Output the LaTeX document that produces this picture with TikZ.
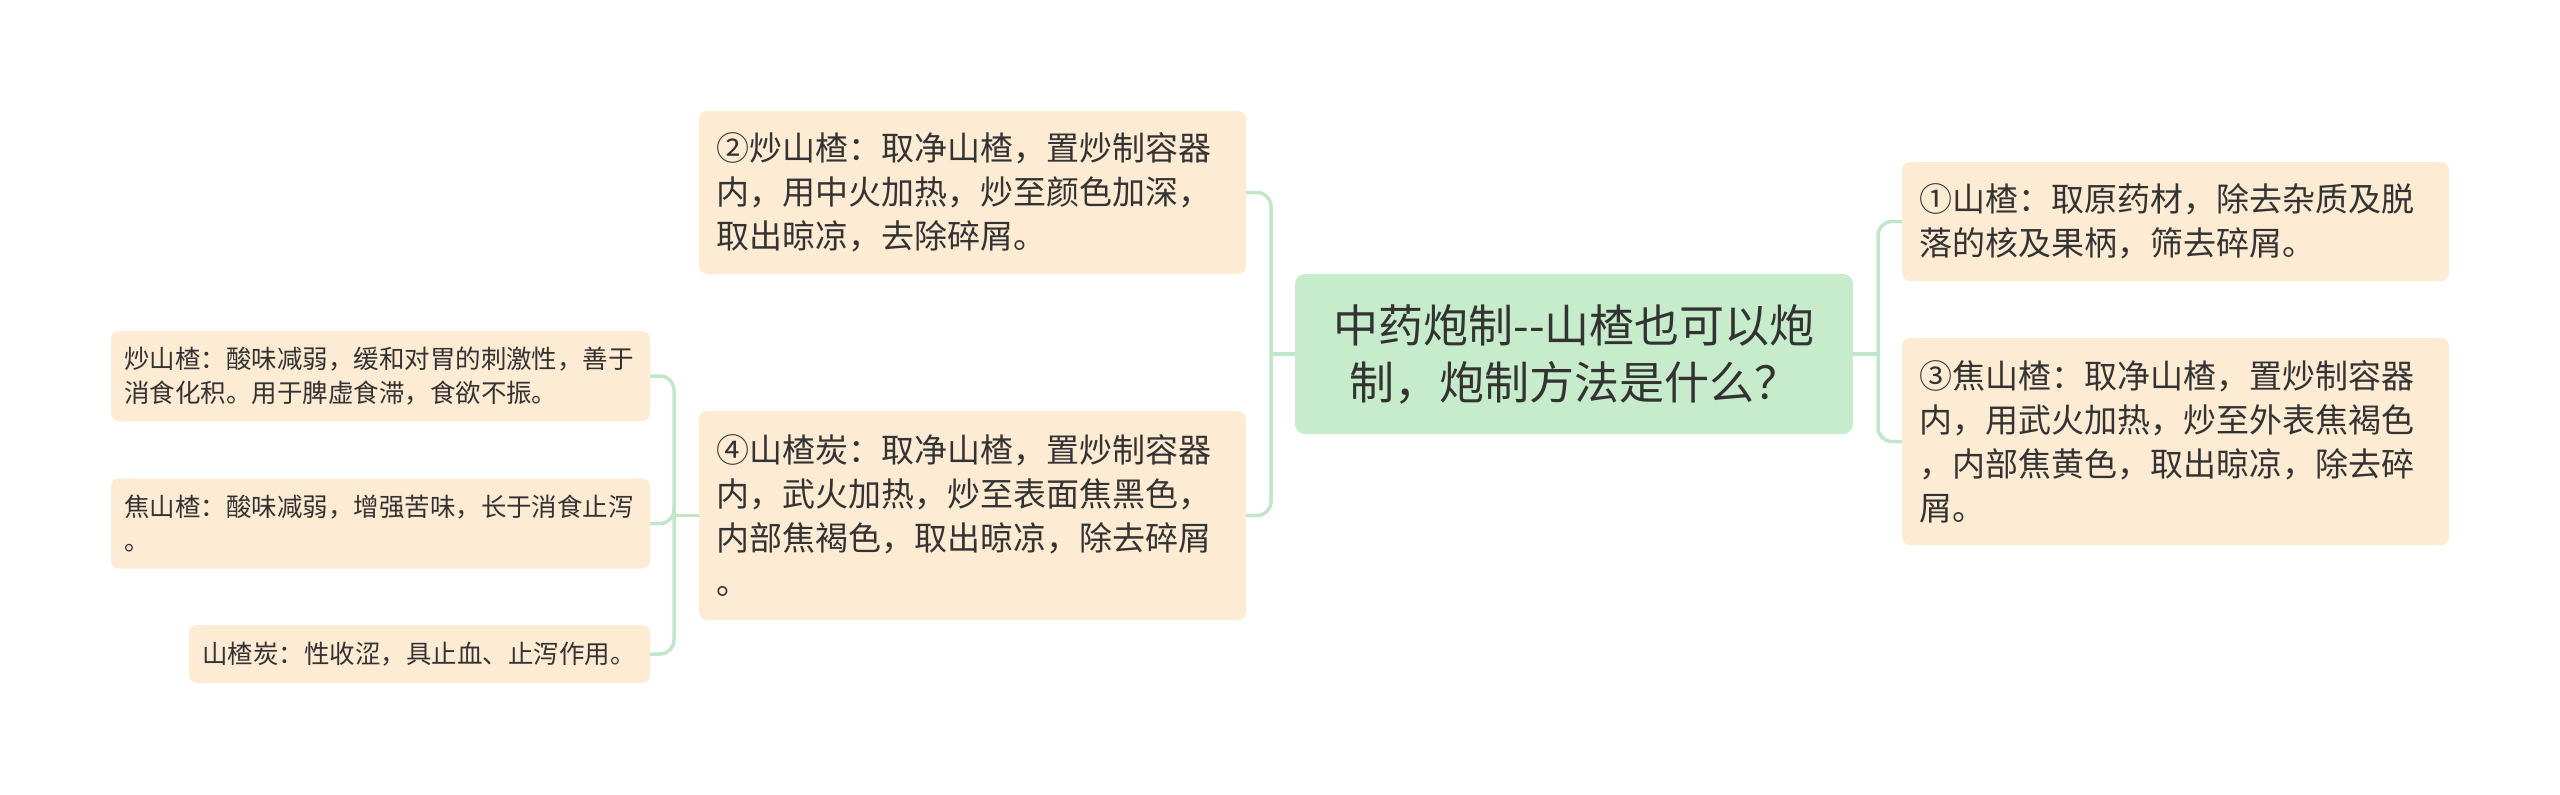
\documentclass[tikz,border=0pt]{standalone}
\usepackage{fontspec}
\newfontfamily\cjk{Noto Sans CJK SC}
\definecolor{cfill}{HTML}{C6ECCB}
\definecolor{pfill}{HTML}{FDEBD3}
\definecolor{lnk}{HTML}{C2E7C8}
\definecolor{txt}{HTML}{333333}
\tikzset{
  rootbox/.style={fill=cfill, rounded corners=10pt, inner sep=0pt, align=center, text=txt,
    font=\cjk\fontsize{45}{57}\selectfont},
  leafbox/.style={fill=pfill, rounded corners=8pt, inner sep=0pt, align=left, text=txt,
    font=\cjk\fontsize{33}{44}\selectfont},
  smallbox/.style={leafbox, font=\cjk\fontsize{25.5}{34}\selectfont},
  conn/.style={draw=lnk, line width=3.5pt, rounded corners=14pt},
}
\begin{document}
\begin{tikzpicture}[x=1pt,y=-1pt]
\useasboundingbox (0,0) rectangle (2560,795);
% root
\node[rootbox, minimum width=558pt, minimum height=160pt, text width=524pt] (root) at (1574,354)
  {中药炮制-{}-山楂也可以炮\\制，炮制方法是什么？};
% level 1
\node[leafbox, minimum width=547pt, minimum height=163pt, text width=513pt] (n2) at (972.5,192.5)
  {②炒山楂：取净山楂，置炒制容器\\内，用中火加热，炒至颜色加深，\\取出晾凉，去除碎屑。};
\node[leafbox, minimum width=547pt, minimum height=209pt, text width=513pt] (n4) at (972.5,515.5)
  {④山楂炭：取净山楂，置炒制容器\\内，武火加热，炒至表面焦黑色，\\内部焦褐色，取出晾凉，除去碎屑\\。};
\node[leafbox, minimum width=547pt, minimum height=119pt, text width=513pt] (n1) at (2175.5,221.5)
  {①山楂：取原药材，除去杂质及脱\\落的核及果柄，筛去碎屑。};
\node[leafbox, minimum width=547pt, minimum height=207pt, text width=513pt] (n3) at (2175.5,441.5)
  {③焦山楂：取净山楂，置炒制容器\\内，用武火加热，炒至外表焦褐色\\，内部焦黄色，取出晾凉，除去碎\\屑。};
% level 2
\node[smallbox, minimum width=539pt, minimum height=90pt, text width=513pt] (s1) at (380.5,376)
  {炒山楂：酸味减弱，缓和对胃的刺激性，善于\\消食化积。用于脾虚食滞，食欲不振。};
\node[smallbox, minimum width=539pt, minimum height=90pt, text width=513pt] (s2) at (380.5,523.5)
  {焦山楂：酸味减弱，增强苦味，长于消食止泻\\。};
\node[smallbox, minimum width=461pt, minimum height=58pt, text width=435pt] (s3) at (419.5,654)
  {山楂炭：性收涩，具止血、止泻作用。};
% junctions
\coordinate (jl) at (1271,354);
\coordinate (jr) at (1878,354);
\coordinate (jll) at (674,515.5);
% connectors
\draw[conn] (root.west) -- (jl);
\draw[conn] (jl) |- (n2.east);
\draw[conn] (jl) |- (n4.east);
\draw[conn] (root.east) -- (jr);
\draw[conn] (jr) |- (n1.west);
\draw[conn] (jr) |- (n3.west);
\draw[conn] (n4.west) -- (jll);
\draw[conn] (jll) |- (s1.east);
\draw[conn] (jll) |- (s2.east);
\draw[conn] (jll) |- (s3.east);
\end{tikzpicture}
\end{document}
